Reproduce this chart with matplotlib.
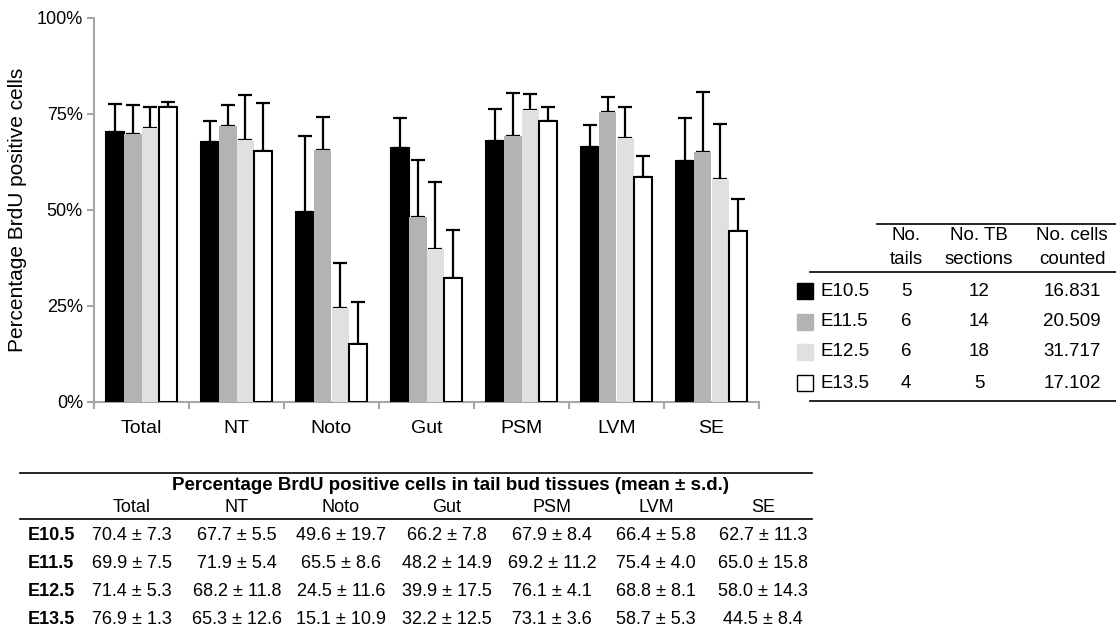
import matplotlib
matplotlib.use('Agg')
import matplotlib.pyplot as plt
from matplotlib.patches import Rectangle
from matplotlib.lines import Line2D
import numpy as np

plt.rcParams['font.family'] = ['Liberation Sans', 'DejaVu Sans']

# ---------------- data ----------------
categories = ['Total', 'NT', 'Noto', 'Gut', 'PSM', 'LVM', 'SE']
stages = ['E10.5', 'E11.5', 'E12.5', 'E13.5']

mean_e105 = [70.4, 67.7, 49.6, 66.2, 67.9, 66.4, 62.7]
sd_e105 = [7.3, 5.5, 19.7, 7.8, 8.4, 5.8, 11.3]
mean_e115 = [69.9, 71.9, 65.5, 48.2, 69.2, 75.4, 65.0]
sd_e115 = [7.5, 5.4, 8.6, 14.9, 11.2, 4.0, 15.8]
mean_e125 = [71.4, 68.2, 24.5, 39.9, 76.1, 68.8, 58.0]
sd_e125 = [5.3, 11.8, 11.6, 17.5, 4.1, 8.1, 14.3]
mean_e135 = [76.9, 65.3, 15.1, 32.2, 73.1, 58.7, 44.5]
sd_e135 = [1.3, 12.6, 10.9, 12.5, 3.6, 5.3, 8.4]

no_tails = [5, 6, 6, 4]
no_sections = [12, 14, 18, 5]
no_cells = ['16.831', '20.509', '31.717', '17.102']

yticks = [0, 25, 50, 75, 100]
ytick_labels = ['0%', '25%', '50%', '75%', '100%']

means = [mean_e105, mean_e115, mean_e125, mean_e135]
sds = [sd_e105, sd_e115, sd_e125, sd_e135]
colors = ['#000000', '#b3b3b3', '#e0e0e0', '#ffffff']
edges = ['#000000', 'none', 'none', '#000000']

W, H = 1116, 635
fig = plt.figure(figsize=(W / 100, H / 100), dpi=100)


def fx(px):
    return px / W


def fy(py):
    return 1 - py / H


# ---------------- bar chart ----------------
left, right, top, bottom = 94, 759, 18, 402
ax = fig.add_axes([fx(left), fy(bottom), fx(right - left), (bottom - top) / H])

x = np.arange(len(categories))
bw = 0.185
for i in range(4):
    pos = x + (i - 1.5) * bw
    ax.bar(pos, means[i], width=bw, color=colors[i], edgecolor=edges[i],
           linewidth=1.5 if edges[i] != 'none' else 0, zorder=3)
    ax.errorbar(pos, means[i], yerr=[np.zeros(len(categories)), sds[i]],
                fmt='none', ecolor='black', elinewidth=1.6, capsize=5,
                capthick=1.6, zorder=2)

ax.set_xlim(-0.5, len(categories) - 0.5)
ax.set_ylim(0, 100)
ax.set_yticks(yticks)
ax.set_yticklabels(ytick_labels, fontsize=13)
ax.set_xticks(x)
ax.set_xticklabels(categories, fontsize=14)
ax.set_xticks(np.arange(-0.5, len(categories)), minor=True)
ax.tick_params(axis='x', which='major', length=0, pad=13)
ax.tick_params(axis='x', which='minor', length=5, width=1.5, color='#a6a6a6', direction='out')
ax.tick_params(axis='y', which='major', length=5, width=1.5, color='#a6a6a6', pad=3)
for s in ['top', 'right']:
    ax.spines[s].set_visible(False)
for s in ['left', 'bottom']:
    ax.spines[s].set_color('#a6a6a6')
    ax.spines[s].set_linewidth(1.5)
ax.set_ylabel('Percentage BrdU positive cells', fontsize=15)
ax.yaxis.label.set_va('center')
ax.yaxis.set_label_coords((18 - left) / (right - left), 0.5)

# ---------------- right legend table ----------------
def hline(x0, x1, y, lw=1.2):
    fig.add_artist(Line2D([fx(x0), fx(x1)], [fy(y), fy(y)], color='black',
                          lw=lw, transform=fig.transFigure))


lt_fs = 13.5
col_x = [906, 979, 1072]
hline(877, 1116, 224)
hdr1 = ['No.', 'No. TB', 'No. cells']
hdr2 = ['tails', 'sections', 'counted']
for cx, a, b in zip(col_x, hdr1, hdr2):
    fig.text(fx(cx), fy(235), a, ha='center', va='center', fontsize=lt_fs)
    fig.text(fx(cx), fy(259), b, ha='center', va='center', fontsize=lt_fs)
hline(810, 1116, 272)
row_y = [291, 322, 352, 383]
for i, st in enumerate(stages):
    y = row_y[i]
    sq = Rectangle((fx(797), fy(y + 8)), fx(16), 16 / H, transform=fig.transFigure,
                   facecolor=colors[i], edgecolor='black' if i == 3 else colors[i],
                   linewidth=1.0)
    fig.add_artist(sq)
    fig.text(fx(820), fy(y), st, ha='left', va='center', fontsize=lt_fs)
    fig.text(fx(col_x[0]), fy(y), str(no_tails[i]), ha='center', va='center', fontsize=lt_fs)
    fig.text(fx(col_x[1]), fy(y), str(no_sections[i]), ha='center', va='center', fontsize=lt_fs)
    fig.text(fx(col_x[2]), fy(y), no_cells[i], ha='center', va='center', fontsize=lt_fs)
hline(810, 1116, 401)

# ---------------- bottom table ----------------
bt_fs = 13
hline(20, 812, 473)
fig.text(fx(451), fy(486), 'Percentage BrdU positive cells in tail bud tissues (mean ± s.d.)',
         ha='center', va='center', fontsize=13.5, fontweight='bold')
tcol_x = [132, 237, 341, 447, 552, 656, 763]
for cx, c in zip(tcol_x, categories):
    fig.text(fx(cx), fy(508), c, ha='center', va='center', fontsize=bt_fs)
hline(20, 812, 519)
trow_y = [536, 564, 592, 620]
for i, st in enumerate(stages):
    y = trow_y[i]
    fig.text(fx(51), fy(y), st, ha='center', va='center', fontsize=bt_fs, fontweight='bold')
    for j, cx in enumerate(tcol_x):
        fig.text(fx(cx), fy(y), f'{means[i][j]:.1f} ± {sds[i][j]:.1f}',
                 ha='center', va='center', fontsize=bt_fs)

fig.savefig('out.png', dpi=100)
